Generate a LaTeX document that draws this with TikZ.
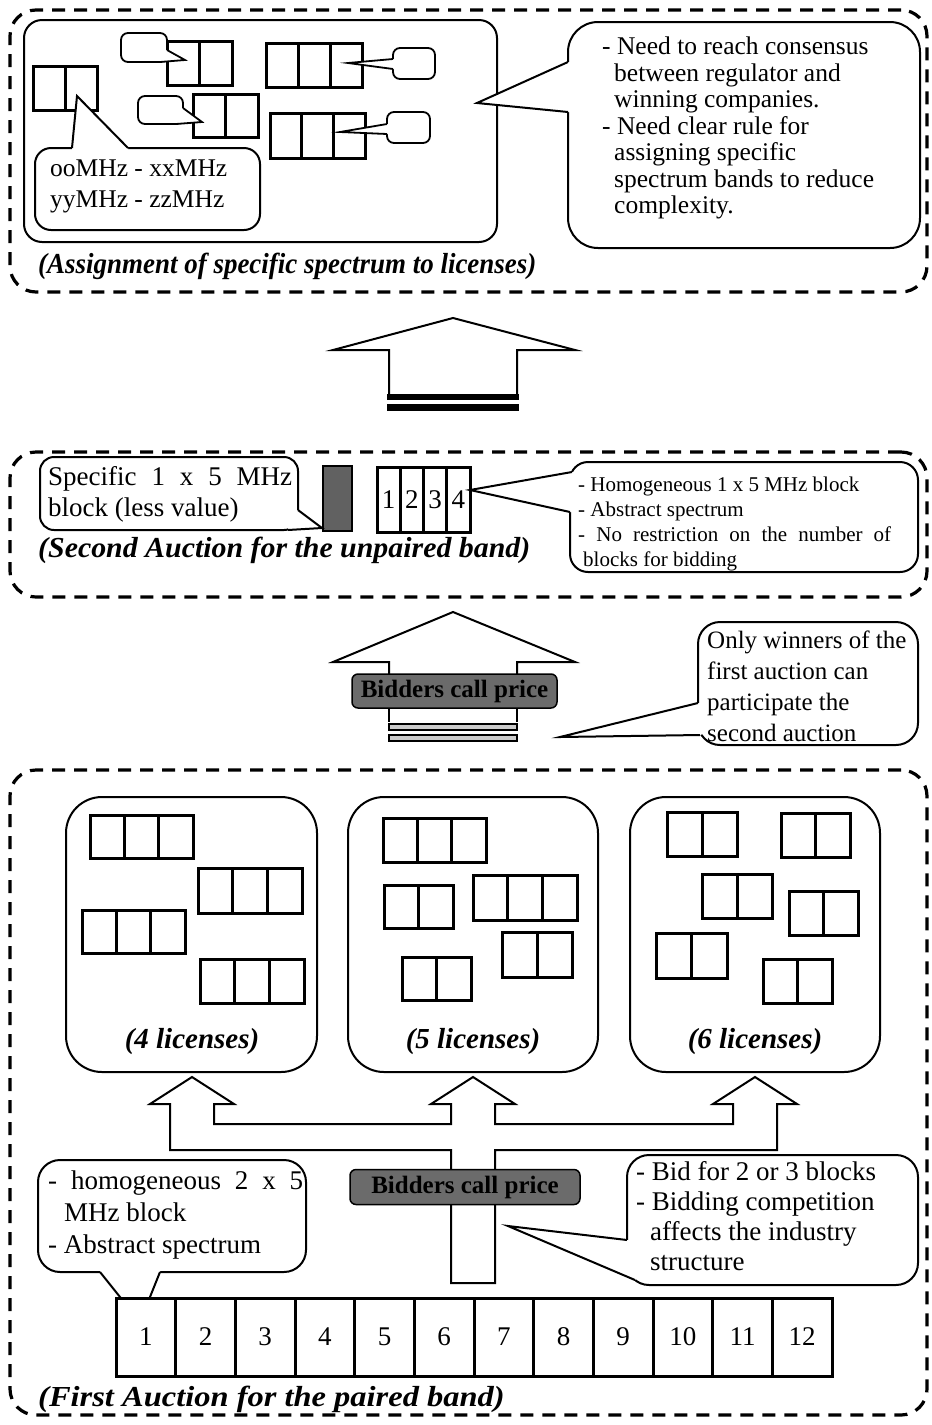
\documentclass[tikz,border=0pt]{standalone}
\usepackage{fontspec}
\setmainfont{Liberation Serif}
\usetikzlibrary{calc}

% box from its top-left (#3,#4) to its bottom-right (#5,#6) corner
\newcommand\placebox[6]{%
  \pgfmathsetmacro\pbW{#5-#3}%
  \pgfmathsetmacro\pbH{#6-#4}%
  \node[#1, minimum width=\pbW pt, minimum height=\pbH pt, anchor=north west,
        inner sep=0pt, outer sep=0pt] (#2) at (#3,#4) {};}

% spectrum block split into #6 equal cells
\newcommand\cellrow[6]{%
  \placebox{blk}{#1}{#2}{#3}{#4}{#5}%
  \pgfmathtruncatemacro\cellN{#6-1}%
  \foreach \k in {1,...,\cellN}{%
    \pgfmathsetmacro\fr{\k/#6}%
    \draw[line width=3pt] ($(#1.north west)!\fr!(#1.north east)$) --
                          ($(#1.south west)!\fr!(#1.south east)$);}}

% callout tail: base #2, tip #3, base #4; #5 and #6 lie just inside the box
\newcommand\tail[6][]{%
  \fill[white] #2 -- #3 -- #4 -- #5 -- #6 -- cycle;
  \draw[line width=2pt, line join=miter, #1] #2 -- #3 -- #4;}

\begin{document}
\begin{tikzpicture}[x=1pt, y=-1pt,
  dashbox/.style={draw, line width=3.2pt, dash pattern=on 13pt off 9pt, rounded corners=26pt},
  rbox/.style={draw, line width=2pt, fill=white},
  lic/.style={rbox, rounded corners=36pt},
  tag/.style={draw, line width=1.8pt, fill=white, rounded corners=7pt},
  blk/.style={draw, line width=3pt, fill=white},
  txt/.style={font=\fontsize{27}{31}\selectfont, inner sep=0pt, align=left},
  lbl/.style={font=\fontsize{29}{31}\selectfont\bfseries\itshape, inner sep=0pt},
  num/.style={font=\fontsize{27}{29}\selectfont, inner sep=0pt},
  bid/.style={draw, line width=1.5pt, fill=black!58, rounded corners=6pt,
              font=\fontsize{25}{27}\selectfont\bfseries, text=black, inner sep=0pt},
  arrowline/.style={draw, line width=2pt, line join=miter}]

\useasboundingbox (0,0) rectangle (932,1425);
\fill[white] (0,0) rectangle (932,1425);

%% ---------------- assignment of specific spectrum ----------------
\placebox{dashbox}{frameA}{10}{10}{927}{292}
\placebox{rbox, rounded corners=18pt}{asg}{24}{20}{497}{242}

\cellrow{ta}{33}{66}{97}{110}{2}
\cellrow{tb}{167}{41}{232}{85}{2}
\cellrow{tc}{193}{94}{258}{137}{2}
\cellrow{td}{266}{43}{362}{87}{3}
\cellrow{te}{270}{113}{365}{158}{3}

\placebox{tag}{tgb}{121}{33}{167}{62}
\placebox{tag}{tgc}{138}{96}{183}{124}
\placebox{tag}{tgd}{393}{48}{435}{79}
\placebox{tag}{tge}{387}{112}{430}{143}
\coordinate (tipb) at (185,60);
\coordinate (tipc) at (202,122);
\coordinate (tipd) at (348,63);
\coordinate (tipe) at (340,132);
\tail[line width=1.8pt]{(167,50)}{(tipb)}{(160,62)}{(160,59)}{(164,50)}
\tail[line width=1.8pt]{(183,108)}{(tipc)}{(176,124)}{(176,121)}{(180,108)}
\tail[line width=1.8pt]{(393,59)}{(tipd)}{(393,69)}{(396,69)}{(396,59)}
\tail[line width=1.8pt]{(387,124)}{(tipe)}{(387,134)}{(390,134)}{(390,124)}

\placebox{rbox, rounded corners=16pt}{freq}{35}{148}{260}{230}
\coordinate (tipf) at (77,96);
\tail{(72,148)}{(tipf)}{(128,148)}{(128,151)}{(72,151)}
\node[txt, font=\fontsize{25.5}{31}\selectfont, anchor=north west] (freqtxt) at (50,160)
  {ooMHz - xxMHz\\yyMHz - zzMHz};

\placebox{rbox, rounded corners=30pt}{need}{568}{22}{920}{248}
\coordinate (tipn) at (477,103);
\tail{(568,62)}{(tipn)}{(568,112)}{(571,112)}{(571,62)}
\node[txt, font=\fontsize{25.5}{26.5}\selectfont, anchor=north west] (needtxt) at (602,37)
  {- Need to reach consensus\\
   \hspace*{12pt}between regulator and\\
   \hspace*{12pt}winning companies.\\
   - Need clear rule for\\
   \hspace*{12pt}assigning specific\\
   \hspace*{12pt}spectrum bands to reduce\\
   \hspace*{12pt}complexity.};

\node[lbl, anchor=base west] (labA) at (38,273)
  {\scalebox{0.93}[1]{(Assignment of specific spectrum to licenses)}};

%% arrow from the second auction up to the assignment
\draw[arrowline] (389,396) -- (389,350) -- (333,350) -- (453,318) -- (575,350) -- (517,350) -- (517,396);
\fill (387,394) rectangle (519,400);
\fill (387,404) rectangle (519,411);

%% ---------------- second auction ----------------
\placebox{dashbox}{frameB}{10}{452}{927}{597}
\placebox{rbox, rounded corners=14pt}{spec}{40}{457}{298}{530}
\node[txt, anchor=north west] (spectxt) at (48,466)
  {\makebox[244pt][s]{Specific 1 x 5 MHz}\\block (less value)};
\placebox{blk, fill=black!62, line width=2pt}{grayblk}{323}{466}{352}{531}
\coordinate (tips) at (322,528);
\tail{(298,510)}{(tips)}{(288,530)}{(288,527)}{(295,510)}

\cellrow{unp}{377}{467}{470}{532}{4}
\foreach \k in {1,...,4}{%
  \pgfmathsetmacro\fr{(\k-0.5)/4}%
  \node[num] (unp-\k) at ($(unp.west)!\fr!(unp.east)$) {\k};}

\placebox{rbox, rounded corners=18pt}{homo}{570}{462}{918}{572}
\coordinate (tiph) at (470,490);
\tail{(572,472)}{(tiph)}{(570,512)}{(573,512)}{(575,472)}
\node[txt, font=\fontsize{21}{25}\selectfont, anchor=north west] (homotxt) at (578,477)
  {- Homogeneous 1 x 5 MHz block\\
   - Abstract spectrum\\
   \makebox[313pt][s]{- No restriction on the number of}\\
   \hspace*{5pt}blocks for bidding};

\node[lbl, anchor=base west] (labB) at (38,557)
  {\scalebox{1.03}[1]{(Second Auction for the unpaired band)}};

%% arrow from the first auction up to the second one
\draw[arrowline] (389,674) -- (389,662) -- (333,662) -- (453,612) -- (575,662) -- (517,662) -- (517,674);
\node[bid, minimum width=205pt, minimum height=34pt] (bidA) at (454.5,691) {Bidders call price};
\draw[line width=2pt] (389,708) -- (389,722);
\draw[line width=2pt] (517,708) -- (517,722);
\filldraw[fill=gray!40, line width=1.2pt] (389,724) rectangle (517,730);
\filldraw[fill=gray!40, line width=1.2pt] (389,735) rectangle (517,741);

\placebox{rbox, rounded corners=22pt}{winners}{698}{622}{918}{745}
\coordinate (tipw) at (560,737);
\tail{(698,703)}{(tipw)}{(700,735)}{(703,734)}{(701,703)}
\node[txt, font=\fontsize{25}{31}\selectfont, anchor=north west] (winnerstxt) at (707,631)
  {Only winners of the\\first auction can\\participate the\\second auction};

%% ---------------- first auction ----------------
\placebox{dashbox}{frameC}{10}{770}{927}{1415}

\placebox{lic}{licA}{66}{797}{317}{1072}
\placebox{lic}{licB}{348}{797}{598}{1072}
\placebox{lic}{licC}{630}{797}{880}{1072}

\cellrow{a1}{90}{815}{193}{858}{3}
\cellrow{a2}{198}{868}{302}{913}{3}
\cellrow{a3}{82}{910}{185}{953}{3}
\cellrow{a4}{200}{959}{304}{1003}{3}

\cellrow{b1}{383}{818}{486}{862}{3}
\cellrow{b2}{384}{885}{453}{928}{2}
\cellrow{b3}{473}{875}{577}{920}{3}
\cellrow{b4}{502}{932}{572}{977}{2}
\cellrow{b5}{402}{957}{471}{1000}{2}

\cellrow{c1}{667}{812}{737}{856}{2}
\cellrow{c2}{781}{813}{850}{857}{2}
\cellrow{c3}{702}{874}{772}{918}{2}
\cellrow{c4}{789}{891}{858}{935}{2}
\cellrow{c5}{656}{933}{727}{978}{2}
\cellrow{c6}{763}{959}{832}{1003}{2}

\node[lbl] (licAtxt) at (192,1042) {(4 licenses)};
\node[lbl] (licBtxt) at (473,1042) {(5 licenses)};
\node[lbl] (licCtxt) at (755,1042) {(6 licenses)};

%% branching arrow up to the three license boxes
\draw[arrowline] (451,1283) -- (451,1150) -- (170,1150) -- (170,1104) -- (150,1104) -- (192,1077)
  -- (234,1104) -- (214,1104) -- (214,1124) -- (451,1124) -- (451,1104) -- (431,1104) -- (473,1077)
  -- (515,1104) -- (495,1104) -- (495,1124) -- (733,1124) -- (733,1104) -- (713,1104) -- (755,1077)
  -- (797,1104) -- (777,1104) -- (777,1150) -- (495,1150) -- (495,1283) -- cycle;
\node[bid, minimum width=230pt, minimum height=35pt] (bidB) at (465,1187) {Bidders call price};

\placebox{rbox, rounded corners=22pt}{homo2}{38}{1160}{306}{1272}
\coordinate (tipl) at (140,1322);
\tail{(100,1272)}{(tipl)}{(160,1272)}{(160,1269)}{(100,1269)}
\node[txt, font=\fontsize{27}{32}\selectfont, anchor=north west] (homo2txt) at (48,1171)
  {\makebox[255pt][s]{- homogeneous 2 x 5}\\
   \hspace*{16pt}MHz block\\
   - Abstract spectrum};

\placebox{rbox, rounded corners=22pt}{bidfor}{627}{1155}{918}{1285}
\coordinate (tipr) at (508,1226);
\tail{(627,1240)}{(tipr)}{(635,1280)}{(638,1277)}{(630,1240)}
\node[txt, font=\fontsize{27}{30}\selectfont, anchor=north west] (bidfortxt) at (636,1161)
  {- Bid for 2 or 3 blocks\\
   - Bidding competition\\
   \hspace*{14pt}affects the industry\\
   \hspace*{14pt}structure};

\cellrow{band}{116}{1298}{832}{1376}{12}
\foreach \k in {1,...,12}{%
  \pgfmathsetmacro\fr{(\k-0.5)/12}%
  \node[num] (band-\k) at ($(band.west)!\fr!(band.east)$) {\k};}

\node[lbl, anchor=base west] (labC) at (38,1406)
  {\scalebox{1.12}[1]{(First Auction for the paired band)}};

\end{tikzpicture}
\end{document}
